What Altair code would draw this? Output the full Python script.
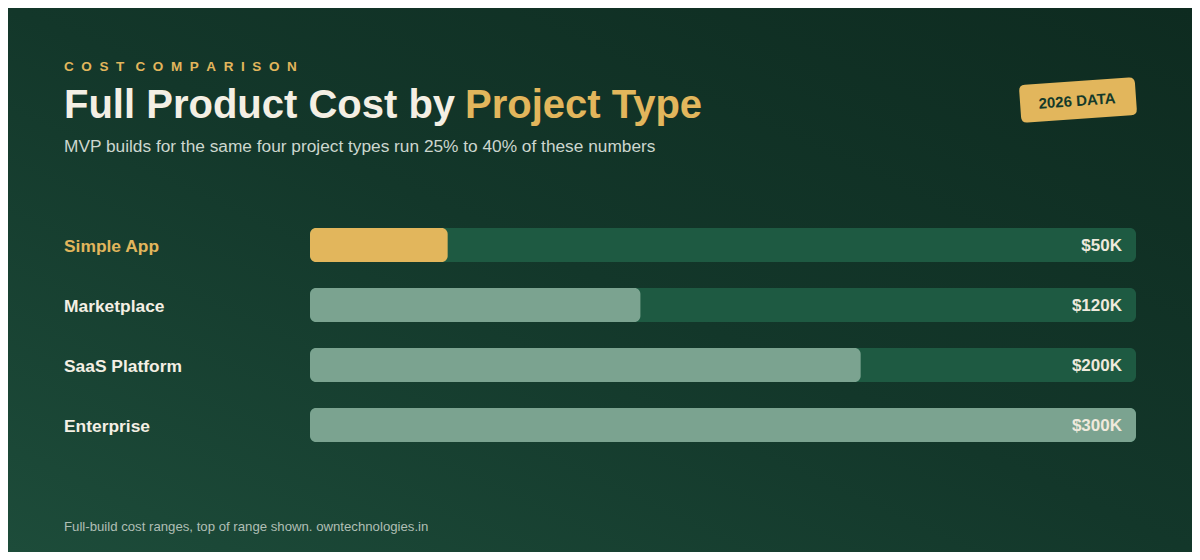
import altair as alt
import pandas as pd

# ---- data ----
categories = ["Simple App", "Marketplace", "SaaS Platform", "Enterprise"]
values = [50, 120, 200, 300]
value_labels = ["$50K", "$120K", "$200K", "$300K"]
scale_max = 300
highlight = "Simple App"

eyebrow = "COST COMPARISON"
title_a = "Full Product Cost by "
title_b = "Project Type"
subtitle = "MVP builds for the same four project types run 25% to 40% of these numbers"
footer = "Full-build cost ranges, top of range shown. owntechnologies.in"
badge = "2026 DATA"

# ---- style ----
W, H = 1184, 544
GOLD = "#e2b65c"
CREAM = "#f4efe4"
TRACK = "#1e5a42"
FILL = "#7ba390"
FONT = "Liberation Sans"

df = pd.DataFrame({
    "cat": categories,
    "value": values,
    "label": value_labels,
    "start": [0] * len(categories),
    "track": [scale_max] * len(categories),
    "fill": [GOLD if c == highlight else FILL for c in categories],
    "tcolor": [GOLD if c == highlight else CREAM for c in categories],
})

xs = alt.Scale(domain=[0, scale_max], range=[302, 1128])
ys = alt.Scale(domain=categories, range=[207, 447], paddingInner=0.4333, paddingOuter=0.2167)
X = lambda f: alt.X(f"{f}:Q", scale=xs, axis=None)
Y = alt.Y("cat:N", scale=ys, axis=None, sort=categories)

one = pd.DataFrame({"a": [0]})

bg = alt.Chart(one).mark_rect(
    color=alt.Gradient(
        gradient="linear",
        stops=[alt.GradientStop(color="#1d4c3a", offset=0),
               alt.GradientStop(color="#13372a", offset=0.5),
               alt.GradientStop(color="#0e2b20", offset=1)],
        x1=0, y1=1, x2=1, y2=0,
    )
).encode(x=alt.value(0), x2=alt.value(W), y=alt.value(0), y2=alt.value(H))

base = alt.Chart(df)
track = base.mark_bar(cornerRadius=6, color=TRACK).encode(x=X("start"), x2="track:Q", y=Y)
fill = base.mark_bar(cornerRadius=6).encode(
    x=X("start"), x2="value:Q", y=Y, color=alt.Color("fill:N", scale=None)
)
cat_text = base.mark_text(align="left", baseline="middle", font=FONT, fontSize=17.4,
                          fontWeight="bold", dy=2).encode(
    x=alt.value(56), y=Y, text="cat:N", color=alt.Color("tcolor:N", scale=None)
)
val_text = base.mark_text(align="right", baseline="middle", font=FONT, fontSize=17,
                          fontWeight="bold", color="#efe9dc", dy=1).encode(
    x=alt.value(1114), y=Y, text="label:N"
)

gap = "\u2009\u00a0\u200a"
spaced = "\u00a0\u00a0\u00a0".join(gap.join(list(w)) for w in eyebrow.split(" "))

def txt(s, x, y, size, color, weight="normal", align="left", baseline="alphabetic", angle=0):
    kw = dict(align=align, baseline=baseline, font=FONT, fontSize=size,
              fontWeight=weight, color=color)
    if angle:
        kw["angle"] = angle
    return alt.Chart(one).mark_text(**kw).encode(
        x=alt.value(x), y=alt.value(y), text=alt.value(s))

t_eyebrow = txt(spaced, 56, 62.5, 13.5, GOLD, "bold")
t_title_a = txt(title_a, 56, 110, 40, CREAM, "bold")
t_title_b = txt(title_b, 457, 110, 40, GOLD, "bold")
t_sub = txt(subtitle, 56, 144, 17.3, "#cdd7cf")
t_foot = txt(footer, 56, 523, 13.2, "#b0bfb5")

r = 0.1034
hy = 0.3276
path = (f"M {-1+r} {-hy} L {1-r} {-hy} Q 1 {-hy} 1 {-hy+r} L 1 {hy-r} Q 1 {hy} {1-r} {hy} "
        f"L {-1+r} {hy} Q -1 {hy} -1 {hy-r} L -1 {-hy+r} Q -1 {-hy} {-1+r} {-hy} Z")
badge_shape = alt.Chart(one).mark_point(
    shape=path, filled=True, opacity=1, color=GOLD, size=116 * 116, angle=356, strokeWidth=0
).encode(x=alt.value(1070), y=alt.value(92))
badge_text = txt(badge, 1069, 93, 15, "#143a2a", "bold", align="center", baseline="middle", angle=356)

chart = alt.layer(
    bg, track, fill, cat_text, val_text,
    t_eyebrow, t_title_a, t_title_b, t_sub, t_foot,
    badge_shape, badge_text,
).properties(
    width=W, height=H, padding=0, autosize=alt.AutoSizeParams(type="none"),
    background="#13372a",
).configure_view(stroke=None)

chart.save("out.html", embed_options={"renderer": "svg", "actions": False})
